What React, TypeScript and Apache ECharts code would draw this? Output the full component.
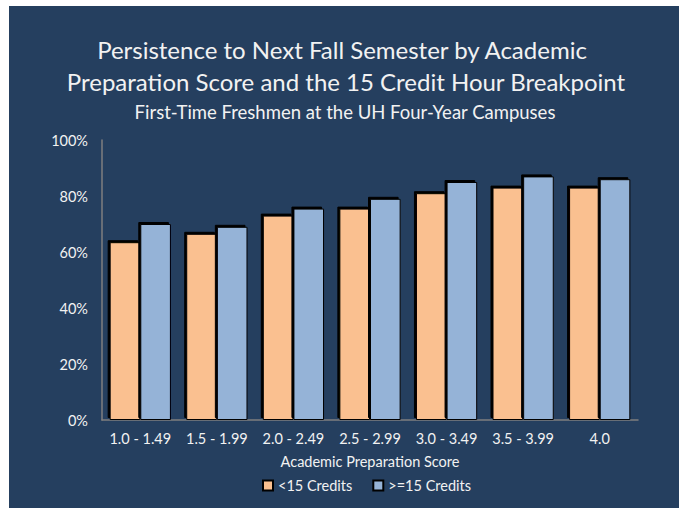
import React, { useEffect, useRef } from "react";
import * as echarts from "echarts";

const categories = ["1.0 - 1.49", "1.5 - 1.99", "2.0 - 2.49", "2.5 - 2.99", "3.0 - 3.49", "3.5 - 3.99", "4.0"];
const under15 = [63.5, 66.5, 73, 75.5, 81, 83, 83];
const over15 = [70, 69, 75.5, 79, 85, 87, 86];
const seriesNames = ["<15 Credits", ">=15 Credits"];
const titleLines = ["Persistence to Next Fall Semester by Academic", "Preparation Score and the 15 Credit Hour Breakpoint"];
const subtitle = "First-Time Freshmen at the UH Four-Year Campuses";
const xAxisName = "Academic Preparation Score";

const FONT = "Lato, 'Open Sans', sans-serif";
const TXT = "#f2f2f2";

export default function App() {
  const ref = useRef<HTMLDivElement>(null);
  useEffect(() => {
    if (!ref.current) return;
    const chart = echarts.init(ref.current, null, { renderer: "svg" });
    const barStyle = (color: string) => ({
      color,
      borderColor: "#000",
      borderWidth: 1,
      shadowColor: "rgba(0,0,0,1)",
      shadowBlur: 0,
      shadowOffsetX: -2,
      shadowOffsetY: -2,
    });
    chart.setOption({
      animation: false,
      backgroundColor: "#ffffff",
      graphic: [
        { type: "rect", z: -10, shape: { x: 9, y: 6, width: 670, height: 502 }, style: { fill: "#253F5F" } },
        { type: "text", x: 342, y: 37, style: { text: titleLines[0], fill: TXT, font: `24px ${FONT}`, textAlign: "center" } },
        { type: "text", x: 346, y: 69, style: { text: titleLines[1], fill: TXT, font: `24px ${FONT}`, textAlign: "center" } },
        { type: "text", x: 345, y: 102, style: { text: subtitle, fill: TXT, font: `18.5px ${FONT}`, textAlign: "center" } },
      ],
      grid: { left: 102, right: 41, top: 140, bottom: 88, containLabel: false },
      legend: {
        top: 473,
        left: 257,
        itemWidth: 10,
        itemHeight: 10,
        itemGap: 20,
        icon: "rect",
        textStyle: { color: TXT, fontFamily: FONT, fontSize: 14.5 },
        data: seriesNames,
      },
      xAxis: {
        type: "category",
        data: categories,
        name: xAxisName,
        nameLocation: "middle",
        nameGap: 34,
        nameTextStyle: { color: TXT, fontFamily: FONT, fontSize: 14.5 },
        axisLine: { lineStyle: { color: "#7f7f7f", width: 1.5 } },
        axisTick: { show: false },
        axisLabel: { color: TXT, fontFamily: FONT, fontSize: 14.5, margin: 11, interval: 0 },
      },
      yAxis: {
        type: "value",
        min: 0,
        max: 100,
        interval: 20,
        axisLine: { show: true, lineStyle: { color: "#7f7f7f", width: 1.5 } },
        axisTick: { show: false },
        splitLine: { show: false },
        axisLabel: { color: TXT, fontFamily: FONT, fontSize: 14.5, margin: 14, formatter: "{value}%" },
      },
      series: [
        { name: seriesNames[0], type: "bar", data: under15, barGap: "0%", barCategoryGap: "20%", itemStyle: barStyle("#FAC090") },
        { name: seriesNames[1], type: "bar", data: over15, barGap: "0%", barCategoryGap: "20%", itemStyle: barStyle("#95B3D7") },
      ],
    });
    return () => chart.dispose();
  }, []);
  return <div ref={ref} style={{ position: "fixed", left: 0, top: 0, width: 679, height: 508 }} />;
}
